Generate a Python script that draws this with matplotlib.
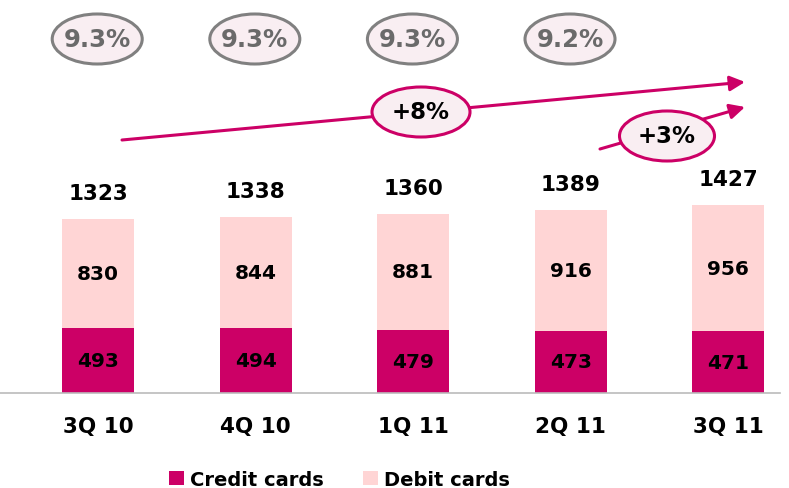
import numpy as np
import matplotlib.pyplot as plt
from matplotlib.patches import Ellipse

quarters = ['3Q 10', '4Q 10', '1Q 11', '2Q 11', '3Q 11']
credit = [493, 494, 479, 473, 471]
debit = [830, 844, 881, 916, 956]
totals = [1323, 1338, 1360, 1389, 1427]
share = ['9.3%', '9.3%', '9.3%', '9.2%']
growth = ['+8%', '+3%']

c_credit = '#CC0066'
c_debit = '#FFD5D5'

fig = plt.figure(figsize=(7.89, 4.89), dpi=100)
ax = fig.add_axes([0, 0, 1, 1])
x = np.arange(len(quarters))
px = 157.6  # pixels per category
py = 0.1316  # pixels per unit
ax.set_xlim(-98 / px, (789 - 98) / px)
ax.set_ylim(-95 / py, 394 / py)
ax.axis('off')

ax.bar(x, credit, width=72 / px, color=c_credit, label='Credit cards')
ax.bar(x, debit, bottom=credit, width=72 / px, color=c_debit, label='Debit cards')
ax.plot([-98 / px, 780 / px - 98 / px], [0, 0], color='#BBBBBB', lw=1.2)

for i in x:
    ax.text(i, credit[i] / 2, str(credit[i]), ha='center', va='center',
            fontsize=14.5, fontweight='bold', color='black')
    ax.text(i, credit[i] + debit[i] / 2, str(debit[i]), ha='center', va='center',
            fontsize=14.5, fontweight='bold', color='black')
    ax.text(i, totals[i] + 200, str(totals[i]), ha='center', va='center',
            fontsize=15.5, fontweight='bold', color='black')
    ax.text(i, -250, quarters[i], ha='center', va='center',
            fontsize=15.5, fontweight='bold', color='black')

# share ovals on top
for i, s in enumerate(share):
    ax.add_patch(Ellipse((i - 0.005, 354 / py), 90 / px, 50 / py,
                         facecolor='#F9EEF2', edgecolor='#808080', lw=2.2))
    ax.text(i - 0.005, 354 / py, s, ha='center', va='center',
            fontsize=17.5, fontweight='bold', color='#6A6A6A')

# growth arrows (pixel coords converted to data)
def d(xp, yp):
    return ((xp - 98) / px, (489 - 95 - yp) / py)

arrows = [((122, 141), (745, 83), (421, 113), 98), ((600, 150), (745, 108), (667, 137), 95)]
for (p0, p1, pc, w), g in zip(arrows, growth):
    ax.annotate('', xy=d(*p1), xytext=d(*p0),
                arrowprops=dict(arrowstyle='-|>,head_length=0.9,head_width=0.45',
                                color=c_credit, lw=2.2, shrinkA=0, shrinkB=0))
    ax.add_patch(Ellipse(d(*pc), w / px, 50 / py, facecolor='#F9EEF2',
                         edgecolor=c_credit, lw=2.2, zorder=3))
    ax.text(*d(*pc), g, ha='center', va='center', fontsize=16.5,
            fontweight='bold', color='black', zorder=4)

ax.legend(loc='center', bbox_to_anchor=(0.43, 0.018), ncol=2, frameon=False,
          prop={'size': 14, 'weight': 'bold'}, handlelength=0.8, handleheight=0.8,
          handletextpad=0.3, columnspacing=2.0, borderaxespad=0)

fig.savefig('out.png', dpi=100)
